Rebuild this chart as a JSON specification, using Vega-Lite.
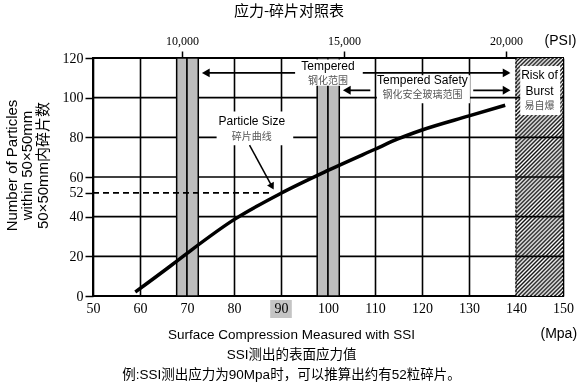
{
  "$schema": "https://vega.github.io/schema/vega-lite/v6.json",
  "width": 470,
  "height": 238,
  "autosize": "none",
  "padding": {"left": 93, "top": 58, "right": 16, "bottom": 87},
  "background": "white",
  "title": {"text": "应力-碎片对照表", "font": "Noto Sans CJK SC", "fontSize": 15, "fontWeight": "normal", "color": "black", "anchor": "middle", "frame": "group", "dx": -39, "offset": 14},
  "config": {
    "font": "Liberation Sans, Noto Sans CJK SC",
    "view": {"stroke": "black", "strokeWidth": 2},
    "axis": {"labelOverlap": false, "labelFlush": false}
  },
  "datasets": {
    "curve": [{"mpa": 59, "n": 2}, {"mpa": 66.4, "n": 15}, {"mpa": 70, "n": 21.5}, {"mpa": 80, "n": 38.5}, {"mpa": 90, "n": 51.8}, {"mpa": 100, "n": 63.3}, {"mpa": 110, "n": 74}, {"mpa": 115, "n": 79.3}, {"mpa": 120, "n": 83.7}, {"mpa": 130, "n": 90.8}, {"mpa": 137.7, "n": 96.2}],
    "bands": [{"from": 67.8, "to": 70}, {"from": 70, "to": 72.4}, {"from": 97.7, "to": 100}, {"from": 100, "to": 102.4}],
    "burst": [{"from": 140, "to": 150}],
    "hgrid": [{"n": 20}, {"n": 40}, {"n": 60}, {"n": 80}, {"n": 100}],
    "boxes": [{"x1": 93.4, "x2": 106.8, "y1": 119.3, "y2": 106}, {"x1": 110.4, "x2": 130.2, "y1": 111.3, "y2": 97.2}, {"x1": 76.3, "x2": 92.6, "y1": 93, "y2": 76}, {"x1": 140.9, "x2": 149.4, "y1": 116, "y2": 91.3}],
    "highlight": [{"x1": 87.7, "x2": 92.3, "y1": -2, "y2": -11.1}],
    "example": [{"from": 50, "to": 88, "n": 52}],
    "arrows": [{"from": 74, "to": 93, "n": 112.5}, {"from": 107.4, "to": 138, "n": 112.5}, {"from": 104, "to": 109, "n": 103.7}, {"from": 130.9, "to": 138, "n": 103.7}],
    "headsLeft": [{"mpa": 74, "n": 112.5}, {"mpa": 104, "n": 103.7}],
    "headsRight": [{"mpa": 138, "n": 112.5}, {"mpa": 138, "n": 103.7}],
    "pointer": [{"mpa": 83.3, "n": 76.1, "mpa2": 88.1, "n2": 55.2}],
    "labels": [{"t": "Tempered", "mpa": 100, "n": 116.1}, {"t": "Tempered Safety", "mpa": 120.1, "n": 108.8}, {"t": "Particle Size", "mpa": 83.8, "n": 88.2}, {"t": "Risk of", "mpa": 145, "n": 111.2}, {"t": "Burst", "mpa": 145, "n": 103.3}],
    "labelsCn": [{"t": "钢化范围", "mpa": 100, "n": 108.6}, {"t": "钢化安全玻璃范围", "mpa": 120.1, "n": 101.1}, {"t": "碎片曲线", "mpa": 83.8, "n": 80.1}, {"t": "易自爆", "mpa": 145, "n": 95.6}],
    "unit": [{"t": "(Mpa)", "mpa": 149.1, "n": -19}],
    "psi": [{"psi": 10000}, {"psi": 20000}]
  },
  "layer": [
    {
      "layer": [
        {
          "data": {"name": "hgrid"},
          "mark": {"type": "rule", "color": "black", "strokeWidth": 1.6},
          "encoding": {
            "x": {"datum": 50, "type": "quantitative", "scale": {"domain": [50, 150], "nice": false, "zero": false},
              "axis": {"values": [50, 60, 70, 80, 90, 100, 110, 120, 130, 140, 150], "tickCount": 20, "grid": true, "gridColor": "black", "gridWidth": 1.6, "domain": false, "ticks": false, "labelFont": "Liberation Serif", "labelFontSize": 14, "labelColor": "black", "labelPadding": 5, "labelFlush": false, "labelOverlap": false,
                "title": ["Surface Compression Measured with SSI", "SSI测出的表面应力值", "例:SSI测出应力为90Mpa时，可以推算出约有52粒碎片。"],
                "titleFont": "Liberation Sans, Noto Sans CJK SC", "titleFontSize": 13.5, "titleFontWeight": "normal", "titleColor": "black", "titleLineHeight": 20, "titleX": 198, "titleY": 38, "titleAlign": "center", "titleBaseline": "middle", "titleAngle": 0}},
            "x2": {"datum": 150},
            "y": {"field": "n", "type": "quantitative", "scale": {"domain": [0, 120], "nice": false},
              "axis": {"values": [0, 20, 40, 52, 60, 80, 100, 120], "tickCount": 20, "grid": false, "domain": false, "tickSize": 8, "tickWidth": 1.5, "tickColor": "black", "labelFont": "Liberation Serif", "labelFontSize": 14, "labelColor": "black", "labelPadding": 2, "labelFlush": false, "labelOverlap": false,
                "title": ["Number of Particles", "within 50×50mm", "50×50mm内碎片数"],
                "titleFont": "Liberation Sans, Noto Sans CJK SC", "titleFontSize": 15, "titleFontWeight": "normal", "titleColor": "black", "titleLineHeight": 15.5, "titleAngle": -90, "titleX": -82, "titleY": 107, "titleAlign": "center", "titleBaseline": "middle"}}
          }
        },
        {
          "data": {"name": "bands"},
          "mark": {"type": "rect", "fill": "#bdbdbd", "stroke": "black", "strokeWidth": 1.5},
          "encoding": {
            "x": {"field": "from", "type": "quantitative"},
            "x2": {"field": "to"},
            "y": {"datum": 0, "type": "quantitative"},
            "y2": {"datum": 120}
          }
        },
        {
          "data": {"name": "burst"},
          "mark": {"type": "rect", "stroke": "black", "strokeWidth": 1.2, "strokeDash": [2, 2],
            "fill": {"gradient": "linear", "x1": 0, "y1": 0, "x2": 0.2276, "y2": 1.1525, "stops": [
              {"offset": 0, "color": "#111"}, {"offset": 0.0071, "color": "#fff"}, {"offset": 0.0143, "color": "#111"}, {"offset": 0.0214, "color": "#fff"}, {"offset": 0.0286, "color": "#111"}, {"offset": 0.0357, "color": "#fff"}, {"offset": 0.0429, "color": "#111"}, {"offset": 0.05, "color": "#fff"}, {"offset": 0.0571, "color": "#111"}, {"offset": 0.0643, "color": "#fff"}, {"offset": 0.0714, "color": "#111"}, {"offset": 0.0786, "color": "#fff"}, {"offset": 0.0857, "color": "#111"}, {"offset": 0.0929, "color": "#fff"},
              {"offset": 0.1, "color": "#111"}, {"offset": 0.1071, "color": "#fff"}, {"offset": 0.1143, "color": "#111"}, {"offset": 0.1214, "color": "#fff"}, {"offset": 0.1286, "color": "#111"}, {"offset": 0.1357, "color": "#fff"}, {"offset": 0.1429, "color": "#111"}, {"offset": 0.15, "color": "#fff"}, {"offset": 0.1571, "color": "#111"}, {"offset": 0.1643, "color": "#fff"}, {"offset": 0.1714, "color": "#111"}, {"offset": 0.1786, "color": "#fff"}, {"offset": 0.1857, "color": "#111"}, {"offset": 0.1929, "color": "#fff"},
              {"offset": 0.2, "color": "#111"}, {"offset": 0.2071, "color": "#fff"}, {"offset": 0.2143, "color": "#111"}, {"offset": 0.2214, "color": "#fff"}, {"offset": 0.2286, "color": "#111"}, {"offset": 0.2357, "color": "#fff"}, {"offset": 0.2429, "color": "#111"}, {"offset": 0.25, "color": "#fff"}, {"offset": 0.2571, "color": "#111"}, {"offset": 0.2643, "color": "#fff"}, {"offset": 0.2714, "color": "#111"}, {"offset": 0.2786, "color": "#fff"}, {"offset": 0.2857, "color": "#111"}, {"offset": 0.2929, "color": "#fff"},
              {"offset": 0.3, "color": "#111"}, {"offset": 0.3071, "color": "#fff"}, {"offset": 0.3143, "color": "#111"}, {"offset": 0.3214, "color": "#fff"}, {"offset": 0.3286, "color": "#111"}, {"offset": 0.3357, "color": "#fff"}, {"offset": 0.3429, "color": "#111"}, {"offset": 0.35, "color": "#fff"}, {"offset": 0.3571, "color": "#111"}, {"offset": 0.3643, "color": "#fff"}, {"offset": 0.3714, "color": "#111"}, {"offset": 0.3786, "color": "#fff"}, {"offset": 0.3857, "color": "#111"}, {"offset": 0.3929, "color": "#fff"},
              {"offset": 0.4, "color": "#111"}, {"offset": 0.4071, "color": "#fff"}, {"offset": 0.4143, "color": "#111"}, {"offset": 0.4214, "color": "#fff"}, {"offset": 0.4286, "color": "#111"}, {"offset": 0.4357, "color": "#fff"}, {"offset": 0.4429, "color": "#111"}, {"offset": 0.45, "color": "#fff"}, {"offset": 0.4571, "color": "#111"}, {"offset": 0.4643, "color": "#fff"}, {"offset": 0.4714, "color": "#111"}, {"offset": 0.4786, "color": "#fff"}, {"offset": 0.4857, "color": "#111"}, {"offset": 0.4929, "color": "#fff"},
              {"offset": 0.5, "color": "#111"}, {"offset": 0.5071, "color": "#fff"}, {"offset": 0.5143, "color": "#111"}, {"offset": 0.5214, "color": "#fff"}, {"offset": 0.5286, "color": "#111"}, {"offset": 0.5357, "color": "#fff"}, {"offset": 0.5429, "color": "#111"}, {"offset": 0.55, "color": "#fff"}, {"offset": 0.5571, "color": "#111"}, {"offset": 0.5643, "color": "#fff"}, {"offset": 0.5714, "color": "#111"}, {"offset": 0.5786, "color": "#fff"}, {"offset": 0.5857, "color": "#111"}, {"offset": 0.5929, "color": "#fff"},
              {"offset": 0.6, "color": "#111"}, {"offset": 0.6071, "color": "#fff"}, {"offset": 0.6143, "color": "#111"}, {"offset": 0.6214, "color": "#fff"}, {"offset": 0.6286, "color": "#111"}, {"offset": 0.6357, "color": "#fff"}, {"offset": 0.6429, "color": "#111"}, {"offset": 0.65, "color": "#fff"}, {"offset": 0.6571, "color": "#111"}, {"offset": 0.6643, "color": "#fff"}, {"offset": 0.6714, "color": "#111"}, {"offset": 0.6786, "color": "#fff"}, {"offset": 0.6857, "color": "#111"}, {"offset": 0.6929, "color": "#fff"},
              {"offset": 0.7, "color": "#111"}, {"offset": 0.7071, "color": "#fff"}, {"offset": 0.7143, "color": "#111"}, {"offset": 0.7214, "color": "#fff"}, {"offset": 0.7286, "color": "#111"}, {"offset": 0.7357, "color": "#fff"}, {"offset": 0.7429, "color": "#111"}, {"offset": 0.75, "color": "#fff"}, {"offset": 0.7571, "color": "#111"}, {"offset": 0.7643, "color": "#fff"}, {"offset": 0.7714, "color": "#111"}, {"offset": 0.7786, "color": "#fff"}, {"offset": 0.7857, "color": "#111"}, {"offset": 0.7929, "color": "#fff"},
              {"offset": 0.8, "color": "#111"}, {"offset": 0.8071, "color": "#fff"}, {"offset": 0.8143, "color": "#111"}, {"offset": 0.8214, "color": "#fff"}, {"offset": 0.8286, "color": "#111"}, {"offset": 0.8357, "color": "#fff"}, {"offset": 0.8429, "color": "#111"}, {"offset": 0.85, "color": "#fff"}, {"offset": 0.8571, "color": "#111"}, {"offset": 0.8643, "color": "#fff"}, {"offset": 0.8714, "color": "#111"}, {"offset": 0.8786, "color": "#fff"}, {"offset": 0.8857, "color": "#111"}, {"offset": 0.8929, "color": "#fff"},
              {"offset": 0.9, "color": "#111"}, {"offset": 0.9071, "color": "#fff"}, {"offset": 0.9143, "color": "#111"}, {"offset": 0.9214, "color": "#fff"}, {"offset": 0.9286, "color": "#111"}, {"offset": 0.9357, "color": "#fff"}, {"offset": 0.9429, "color": "#111"}, {"offset": 0.95, "color": "#fff"}, {"offset": 0.9571, "color": "#111"}, {"offset": 0.9643, "color": "#fff"}, {"offset": 0.9714, "color": "#111"}, {"offset": 0.9786, "color": "#fff"}, {"offset": 0.9857, "color": "#111"}, {"offset": 0.9929, "color": "#fff"},
              {"offset": 1, "color": "#111"}
            ]}},
          "encoding": {
            "x": {"field": "from", "type": "quantitative"},
            "x2": {"field": "to"},
            "y": {"datum": 0, "type": "quantitative"},
            "y2": {"datum": 120}
          }
        },
        {
          "data": {"name": "hgrid"},
          "mark": {"type": "rule", "color": "black", "strokeWidth": 1.6},
          "encoding": {
            "y": {"field": "n", "type": "quantitative"},
            "x": {"datum": 140, "type": "quantitative"},
            "x2": {"datum": 150}
          }
        },
        {
          "data": {"name": "boxes"},
          "mark": {"type": "rect", "fill": "white"},
          "encoding": {
            "x": {"field": "x1", "type": "quantitative"},
            "x2": {"field": "x2"},
            "y": {"field": "y1", "type": "quantitative"},
            "y2": {"field": "y2"}
          }
        },
        {
          "data": {"name": "highlight"},
          "mark": {"type": "rect", "fill": "#c4c4c4", "blend": "multiply"},
          "encoding": {
            "x": {"field": "x1", "type": "quantitative"},
            "x2": {"field": "x2"},
            "y": {"field": "y1", "type": "quantitative"},
            "y2": {"field": "y2"}
          }
        },
        {
          "data": {"name": "example"},
          "mark": {"type": "rule", "color": "black", "strokeWidth": 1.8, "strokeDash": [6, 4]},
          "encoding": {
            "x": {"field": "from", "type": "quantitative"},
            "x2": {"field": "to"},
            "y": {"field": "n", "type": "quantitative"}
          }
        },
        {
          "data": {"name": "curve"},
          "mark": {"type": "line", "color": "black", "strokeWidth": 3.5, "interpolate": "monotone"},
          "encoding": {
            "x": {"field": "mpa", "type": "quantitative"},
            "y": {"field": "n", "type": "quantitative"}
          }
        },
        {
          "data": {"name": "arrows"},
          "mark": {"type": "rule", "color": "black", "strokeWidth": 1.8},
          "encoding": {
            "x": {"field": "from", "type": "quantitative"},
            "x2": {"field": "to"},
            "y": {"field": "n", "type": "quantitative"}
          }
        },
        {
          "data": {"name": "pointer"},
          "mark": {"type": "rule", "color": "black", "strokeWidth": 1.5},
          "encoding": {
            "x": {"field": "mpa", "type": "quantitative"},
            "x2": {"field": "mpa2"},
            "y": {"field": "n", "type": "quantitative"},
            "y2": {"field": "n2"}
          }
        },
        {
          "data": {"name": "headsLeft"},
          "mark": {"type": "point", "shape": "triangle-left", "filled": true, "color": "black", "opacity": 1, "size": 80},
          "encoding": {
            "x": {"field": "mpa", "type": "quantitative"},
            "y": {"field": "n", "type": "quantitative"}
          }
        },
        {
          "data": {"name": "headsRight"},
          "mark": {"type": "point", "shape": "triangle-right", "filled": true, "color": "black", "opacity": 1, "size": 80},
          "encoding": {
            "x": {"field": "mpa", "type": "quantitative"},
            "y": {"field": "n", "type": "quantitative"}
          }
        },
        {
          "data": {"name": "pointer"},
          "mark": {"type": "point", "shape": "triangle-up", "filled": true, "color": "black", "opacity": 1, "size": 60, "angle": 151},
          "encoding": {
            "x": {"field": "mpa2", "type": "quantitative"},
            "y": {"field": "n2", "type": "quantitative"}
          }
        },
        {
          "data": {"name": "labels"},
          "mark": {"type": "text", "font": "Liberation Sans", "fontSize": 12, "color": "black", "align": "center", "baseline": "middle"},
          "encoding": {
            "x": {"field": "mpa", "type": "quantitative"},
            "y": {"field": "n", "type": "quantitative"},
            "text": {"field": "t"}
          }
        },
        {
          "data": {"name": "labelsCn"},
          "mark": {"type": "text", "font": "Noto Sans CJK SC", "fontSize": 10, "color": "#555", "align": "center", "baseline": "middle"},
          "encoding": {
            "x": {"field": "mpa", "type": "quantitative"},
            "y": {"field": "n", "type": "quantitative"},
            "text": {"field": "t"}
          }
        },
        {
          "data": {"name": "unit"},
          "mark": {"type": "text", "font": "Liberation Sans", "fontSize": 14, "color": "black", "align": "center", "baseline": "middle"},
          "encoding": {
            "x": {"field": "mpa", "type": "quantitative"},
            "y": {"field": "n", "type": "quantitative"},
            "text": {"field": "t"}
          }
        }
      ]
    },
    {
      "data": {"name": "psi"},
      "mark": {"type": "point", "opacity": 0},
      "encoding": {
        "x": {"field": "psi", "type": "quantitative", "scale": {"domain": [7251.9, 21755.8], "nice": false, "zero": false},
          "axis": {"orient": "top", "values": [10000, 15000, 20000], "format": ",d", "grid": false, "domain": false, "ticks": true, "tickSize": 7, "tickWidth": 1.5, "tickColor": "black", "labelFont": "Liberation Serif", "labelFontSize": 12, "labelColor": "black", "labelPadding": 4, "labelFlush": false,
            "title": "(PSI)", "titleFont": "Liberation Sans", "titleFontSize": 14, "titleFontWeight": "normal", "titleColor": "black", "titleAngle": 0, "titleX": 467, "titleY": -18, "titleAlign": "center", "titleBaseline": "middle"}}
      }
    }
  ],
  "resolve": {"scale": {"x": "independent"}, "axis": {"x": "independent"}}
}
